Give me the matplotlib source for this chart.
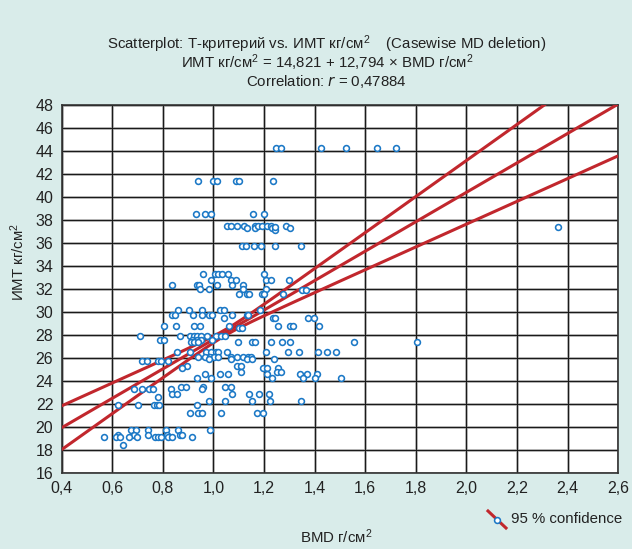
import numpy as np
import matplotlib
matplotlib.use("Agg")
import matplotlib.pyplot as plt
from matplotlib.lines import Line2D

plt.rcParams['font.family'] = ['Liberation Sans', 'DejaVu Sans']
plt.rcParams['mathtext.default'] = 'regular'

# ---------------- data ----------------
bmd = [
    1.247, 1.266, 1.426, 1.525, 1.647, 1.722,
    0.939, 0.998, 1.014, 1.088, 1.101, 1.235,
    0.930, 0.965, 0.989, 1.155, 1.198,
    1.052, 1.068, 1.092, 1.122, 1.131, 1.164, 1.164, 1.177, 1.191, 1.210, 1.227, 1.230, 1.242, 1.243, 1.285, 1.301, 2.360,
    1.111, 1.130, 1.162, 1.186, 1.242, 1.346,
    0.957, 1.006, 1.019, 1.032, 1.059, 1.201,
    0.992, 1.068, 1.089, 1.206, 1.226, 1.300,
    0.835, 0.934, 0.944, 1.013, 1.074, 1.115,
    0.947, 0.982, 1.118, 1.206,
    1.351, 1.367,
    1.101, 1.131, 1.140, 1.190, 1.201, 1.275,
    0.858, 0.904, 0.953, 1.026, 1.041, 1.184,
    0.837, 0.848, 0.918, 0.953, 0.982, 0.993, 1.074, 1.131, 1.138,
    1.043, 1.234, 1.243, 1.372, 1.397,
    0.804, 0.852, 0.924, 0.948, 1.061, 1.256, 1.302, 1.315, 1.418,
    1.101, 1.111,
    0.711, 0.868, 0.907, 0.923, 0.934, 0.951, 0.976, 1.009, 1.028, 1.045,
    0.789, 0.804, 0.914, 0.934, 0.951, 0.993,
    0.911, 0.924, 0.940, 1.096, 1.151, 1.164, 1.227, 1.271, 1.302, 1.555, 1.803,
    0.857, 0.907, 0.970, 0.990, 1.010, 1.019, 1.055, 1.208, 1.293, 1.338, 1.414, 1.450, 1.484,
    0.940, 0.966, 0.986, 1.002, 1.019, 1.069, 1.092, 1.118, 1.138, 1.148,
    0.983, 1.069, 1.131, 1.151, 1.240,
    0.716, 0.736, 0.782, 0.791, 0.821,
    0.894, 1.092, 1.109,
    0.874, 1.194, 1.210, 1.256,
    1.109, 1.250, 1.267,
    0.966, 1.026, 1.058, 1.210, 1.341, 1.371, 1.409,
    0.934, 0.990, 1.231, 1.353, 1.401, 1.504,
    0.872, 0.891, 0.957, 1.045, 1.069,
    0.686, 0.719, 0.745, 0.762, 0.832, 0.953,
    0.835, 0.857, 1.074, 1.142, 1.181, 1.221,
    0.782,
    0.983, 1.045, 1.153, 1.224, 1.347,
    0.624, 0.703, 0.765, 0.775, 0.786, 0.934,
    0.907, 0.940, 0.953, 1.030, 1.173, 1.197,
    0.674, 0.692, 0.742, 0.812, 0.861, 0.986,
    0.624, 0.687, 0.742, 0.815, 0.868, 0.877,
    0.568, 0.613, 0.630, 0.667, 0.699, 0.769, 0.779, 0.792, 0.821, 0.837, 0.916,
    0.643,
]
bmi = (
    [44.3] * 6 +
    [41.4] * 6 +
    [38.5] * 5 +
    [37.5, 37.5, 37.5, 37.5, 37.3, 37.5, 37.3, 37.5, 37.5, 37.5, 37.5, 37.3, 37.1, 37.4, 37.5, 37.3, 37.4] +
    [35.7] * 6 +
    [33.3] * 6 +
    [32.8] * 6 +
    [32.35] * 6 +
    [32.0] * 4 +
    [31.9] * 2 +
    [31.6] * 6 +
    [30.15] * 6 +
    [29.7] * 9 +
    [29.45] * 5 +
    [28.8] * 9 +
    [28.6] * 2 +
    [27.9] * 10 +
    [27.6] * 6 +
    [27.4] * 11 +
    [26.5] * 13 +
    [26.1] * 10 +
    [25.9] * 5 +
    [25.7] * 5 +
    [25.3] * 3 +
    [25.1] * 4 +
    [24.8] * 3 +
    [24.65] * 7 +
    [24.3] * 6 +
    [23.5] * 5 +
    [23.3] * 6 +
    [22.85] * 6 +
    [22.6] * 1 +
    [22.3] * 5 +
    [21.9] * 6 +
    [21.2] * 6 +
    [19.7] * 6 +
    [19.3] * 6 +
    [19.1] * 11 +
    [18.4] * 1
)

intercept = 14.821
slope = 12.794
ci_center_x = 1.05      # where the 95% band is narrowest
ci_min_half = 0.25      # half-width of the band at its narrowest
ci_spread = 2.9         # growth of half-width per unit of BMD

x_ticks = [0.4, 0.6, 0.8, 1.0, 1.2, 1.4, 1.6, 1.8, 2.0, 2.2, 2.4, 2.6]
y_ticks = list(range(16, 49, 2))

# ---------------- styling ----------------
bg = '#d9ecea'
red = '#c1272d'
blue = '#1b78c6'
txt = '#222222'
fs = 10.8

fig = plt.figure(figsize=(6.32, 5.49), dpi=100, facecolor=bg)
ax = fig.add_axes([0.0976, 0.1384, 0.8806, 0.6703])
ax.set_facecolor('white')
ax.set_xlim(0.4, 2.6)
ax.set_ylim(16, 48)
ax.set_xticks(x_ticks)
ax.set_xticklabels([f"{v:.1f}".replace('.', ',') for v in x_ticks])
ax.set_yticks(y_ticks)
ax.set_yticklabels([str(v) for v in y_ticks])
ax.tick_params(length=0, labelsize=11.5, colors=txt, pad=6)
ax.grid(True, color='#c4c4c4', lw=2.0, zorder=0)
for v in x_ticks:
    ax.axvline(v, color='#1a1a1a', lw=0.9, zorder=1)
for v in y_ticks:
    ax.axhline(v, color='#1a1a1a', lw=0.9, zorder=1)
ax.set_axisbelow(True)
for s in ax.spines.values():
    s.set_color('#333333')
    s.set_linewidth(1.2)

xs = np.linspace(0.4, 2.6, 300)
mid = intercept + slope * xs
hw = np.sqrt(ci_min_half ** 2 + (ci_spread * (xs - ci_center_x)) ** 2)
for yy in (mid, mid + hw, mid - hw):
    ax.plot(xs, yy, color=red, lw=2.2, zorder=3, solid_capstyle='butt')

ax.plot(bmd, bmi, 'o', mfc='white', mec=blue, ms=4.2, mew=1.15, zorder=4, clip_on=False)

# titles
fig.text(0.517, 0.919, "Scatterplot: Т-критерий vs. ИМТ кг/см$^2$    (Casewise MD deletion)",
         ha='center', va='center', fontsize=fs, color=txt)
fig.text(0.517, 0.885, "ИМТ кг/см$^2$ = 14,821 + 12,794 × BMD г/см$^2$",
         ha='center', va='center', fontsize=fs, color=txt)
fig.text(0.517, 0.851, "Correlation: $\\it{r}$ = 0,47884",
         ha='center', va='center', fontsize=fs, color=txt)

fig.text(0.028, 0.523, "ИМТ кг/см$^2$", rotation=90, ha='center', va='center',
         fontsize=fs, color=txt)
fig.text(0.532, 0.022, "BMD г/см$^2$", ha='center', va='center', fontsize=fs, color=txt)

# legend
fig.add_artist(Line2D([488 / 632, 506 / 632], [1 - 511 / 549, 1 - 528 / 549],
                      color=red, lw=2.2, transform=fig.transFigure))
fig.add_artist(Line2D([497 / 632], [1 - 519.5 / 549], marker='o', mfc='white', mec=blue,
                      ms=4.2, mew=1.15, transform=fig.transFigure))
fig.text(511 / 632, 1 - 519 / 549, "95 % confidence", ha='left', va='center',
         fontsize=fs, color=txt)

fig.savefig("out.png", dpi=100, facecolor=bg)
